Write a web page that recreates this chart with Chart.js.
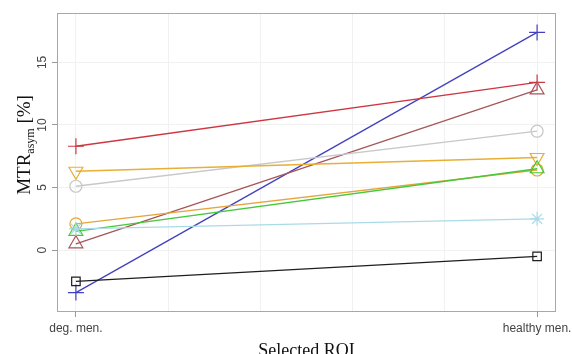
<!DOCTYPE html>
<html>
<head>
<meta charset="utf-8">
<script src="https://cdn.jsdelivr.net/npm/chart.js@4/dist/chart.umd.min.js"></script>
<style>
  html, body { margin: 0; padding: 0; background: #fff; }
  #wrap { width: 572px; height: 354px; }
</style>
</head>
<body>
<div id="wrap"><canvas id="myChart"></canvas></div>
<script>
const ctx = document.getElementById('myChart')

// x positions of the two ROI groups and their labels
const groups = [1, 2]
const groupLabels = ['deg. men.', 'healthy men.']
const xGrid = [1, 1.2, 1.4, 1.6, 1.8, 2]
const yTicks = [0, 5, 10, 15]

// MTRasym [%] per subject: [deg. men., healthy men.]
const blauKreuz = [-3.4, 17.4]
const rotKreuz = [8.3, 13.4]
const braunDreieck = [0.5, 12.8]
const grauKreis = [5.1, 9.5]
const orangeDreieckUnten = [6.3, 7.4]
const orangeKreis = [2.1, 6.4]
const gruenDreieck = [1.5, 6.5]
const hellblauStern = [1.7, 2.5]
const schwarzQuadrat = [-2.5, -0.5]

function punkte(werte) {
  return werte.map((v, i) => ({ x: groups[i], y: v }))
}

function serie(label, werte, farbe, stil, radius, rotation) {
  return {
    label: label,
    data: punkte(werte),
    borderColor: farbe,
    backgroundColor: 'transparent',
    pointBorderColor: farbe,
    pointBackgroundColor: 'rgba(0,0,0,0)',
    pointStyle: stil,
    pointRadius: radius,
    pointHoverRadius: radius,
    pointRotation: rotation || 0,
    pointBorderWidth: 1.2,
    borderWidth: 1.3,
    tension: 0,
    fill: false,
  }
}

const rahmen = {
  id: 'rahmen',
  afterDraw(chart) {
    const c = chart.ctx
    const a = chart.chartArea
    const y = chart.scales.y
    c.save()
    c.strokeStyle = '#a8a8a8'
    c.lineWidth = 1
    c.strokeRect(a.left + 0.5, a.top + 0.5, a.right - a.left - 1, a.bottom - a.top - 1)

    // y tick labels, rotated like in R
    c.fillStyle = '#444'
    c.font = '12px "Liberation Sans", Arial, sans-serif'
    c.textAlign = 'center'
    c.textBaseline = 'middle'
    yTicks.forEach(v => {
      c.save()
      c.translate(43, y.getPixelForValue(v))
      c.rotate(-Math.PI / 2)
      c.fillText(String(v), 0, 0)
      c.restore()
    })

    // y title with subscript
    c.fillStyle = '#111'
    const f1 = '19px "Liberation Serif", "DejaVu Serif", serif'
    const f2 = '12px "Liberation Serif", "DejaVu Serif", serif'
    c.font = f1
    const w1 = c.measureText('MTR').width
    const w3 = c.measureText(' [%]').width
    c.font = f2
    const w2 = c.measureText('asym').width
    const total = w1 + w2 + w3
    c.save()
    c.translate(30, 145)
    c.rotate(-Math.PI / 2)
    c.textAlign = 'left'
    c.textBaseline = 'alphabetic'
    let x0 = -total / 2
    c.font = f1
    c.fillText('MTR', x0, 0)
    c.font = f2
    c.fillText('asym', x0 + w1, 4)
    c.font = f1
    c.fillText(' [%]', x0 + w1 + w2, 0)
    c.restore()

    // x title
    c.font = '18px "Liberation Serif", "DejaVu Serif", serif'
    c.textAlign = 'center'
    c.textBaseline = 'alphabetic'
    c.fillText('Selected ROI', (a.left + a.right) / 2, 356)
    c.restore()
  }
}

new Chart(ctx, {
  type: 'line',
  data: {
    datasets: [
      serie('A', schwarzQuadrat, 'rgb(30,30,30)', 'rect', 6),
      serie('B', hellblauStern, 'rgb(170,218,232)', 'star', 7),
      serie('C', gruenDreieck, 'rgb(70,200,60)', 'triangle', 8),
      serie('D', orangeKreis, 'rgb(228,165,60)', 'circle', 6),
      serie('E', orangeDreieckUnten, 'rgb(232,175,50)', 'triangle', 8, 180),
      serie('F', grauKreis, 'rgb(200,200,200)', 'circle', 6),
      serie('G', braunDreieck, 'rgb(165,85,90)', 'triangle', 8),
      serie('H', rotKreuz, 'rgb(205,55,65)', 'cross', 8),
      serie('I', blauKreuz, 'rgb(65,65,190)', 'cross', 8),
    ],
  },
  options: {
    responsive: true,
    maintainAspectRatio: false,
    animation: false,
    layout: { padding: { top: 13, right: 16, left: 0, bottom: 0 } },
    plugins: {
      legend: { display: false },
      tooltip: { enabled: false },
    },
    scales: {
      x: {
        type: 'linear',
        min: 0.959,
        max: 2.041,
        afterBuildTicks: s => { s.ticks = xGrid.map(v => ({ value: v })) },
        afterFit: s => { s.height = 42; s.paddingLeft = 0; s.paddingRight = 0 },
        grid: {
          color: '#f1f1f1',
          tickColor: c => (groups.includes(c.tick.value) ? '#999' : 'rgba(0,0,0,0)'),
          tickLength: 5,
        },
        border: { display: false },
        ticks: {
          autoSkip: false,
          maxRotation: 0,
          padding: 4,
          color: '#444',
          font: { family: '"Liberation Sans", Arial, sans-serif', size: 12 },
          callback: v => {
            const i = groups.indexOf(v)
            return i >= 0 ? groupLabels[i] : ''
          },
        },
      },
      y: {
        min: -4.95,
        max: 18.95,
        afterBuildTicks: s => { s.ticks = yTicks.map(v => ({ value: v })) },
        afterFit: s => { s.width = 57; s.paddingTop = 0; s.paddingBottom = 0 },
        grid: {
          color: '#f1f1f1',
          tickColor: '#999',
          tickLength: 5,
        },
        border: { display: false },
        ticks: { display: false },
      },
    },
  },
  plugins: [rahmen],
})
</script>
</body>
</html>
